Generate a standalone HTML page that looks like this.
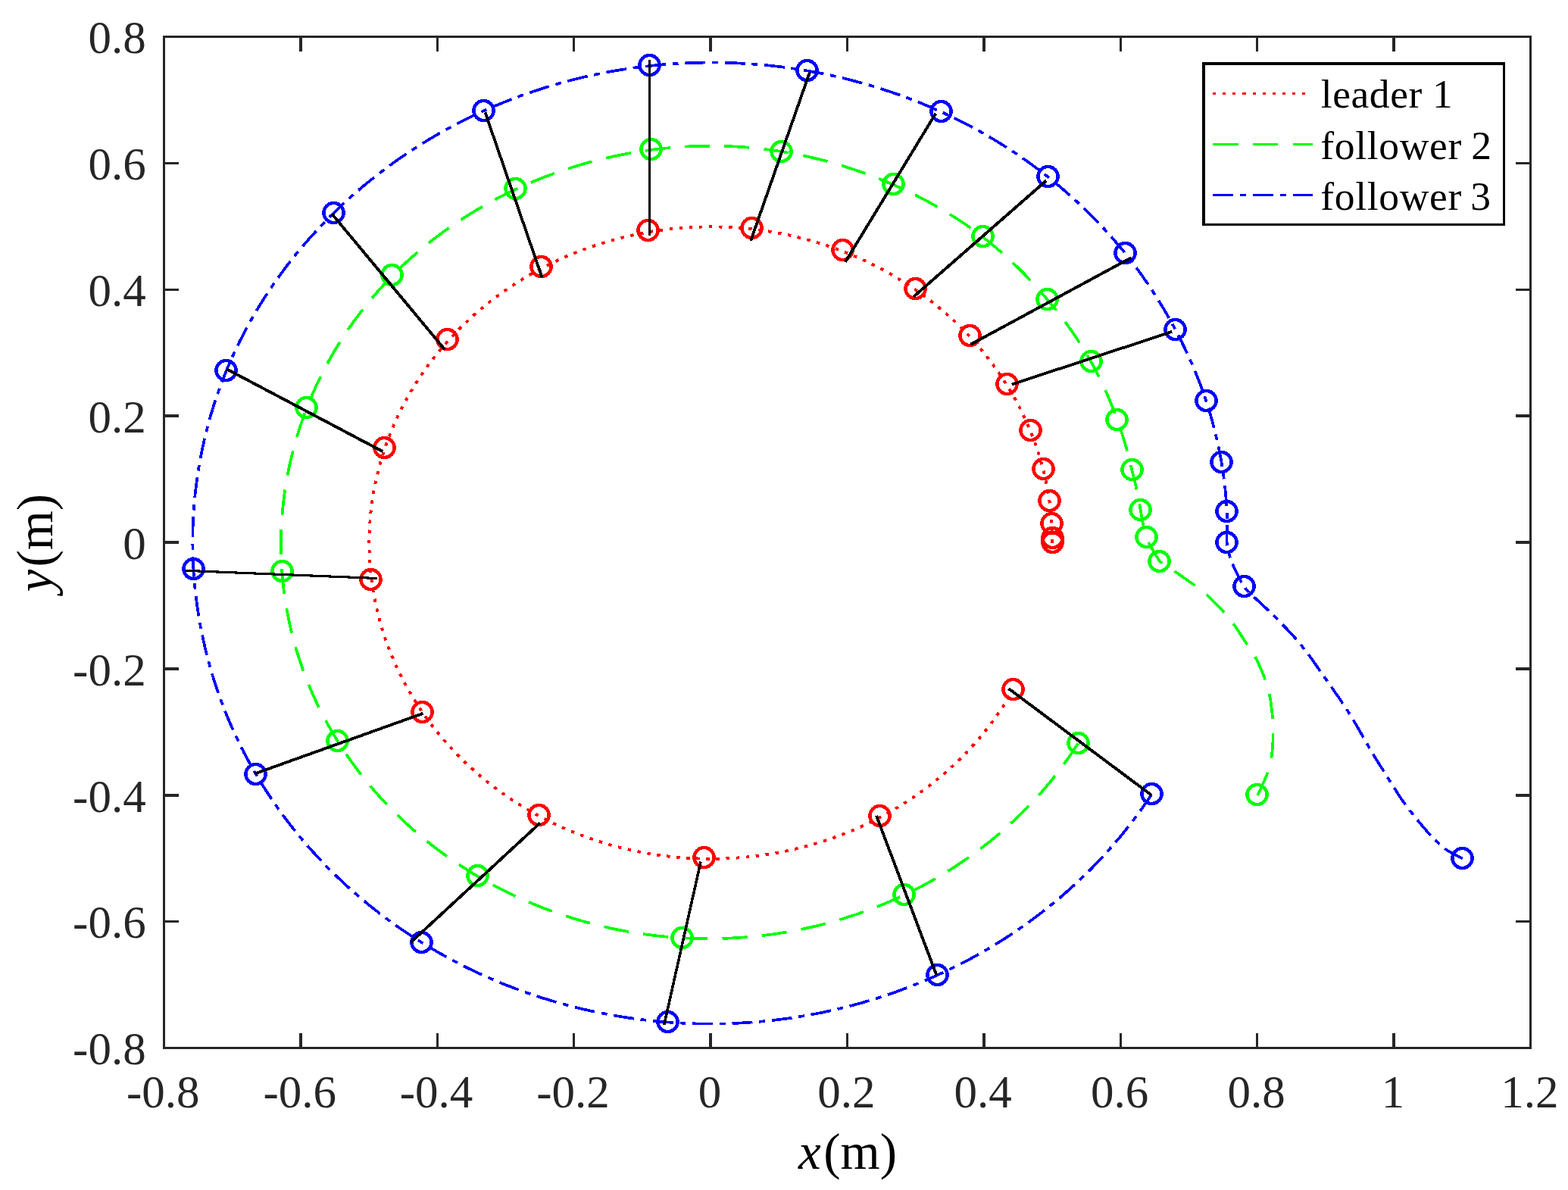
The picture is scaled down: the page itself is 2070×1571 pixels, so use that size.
<!DOCTYPE html>
<html lang="en"><head><meta charset="utf-8"><title>Trajectories</title>
<style>html,body{margin:0;padding:0;background:#fff;}body{width:2070px;height:1571px;overflow:hidden;}svg{display:block;}</style>
</head><body>
<svg width="2070" height="1571" viewBox="0 0 2070 1571">
<rect x="0" y="0" width="2070" height="1571" fill="#fff"/>
<path d="M1389.4,716.6 L1389.4,712.6 L1389.3,708.5 L1389.2,704.5 L1389.1,700.5 L1388.9,696.4 L1388.6,692.4 L1388.4,688.4 L1388.1,684.4 L1387.7,680.4 L1387.3,676.3 L1386.9,672.3 L1386.4,668.3 L1385.8,664.3 L1385.3,660.3 L1384.7,656.3 L1384.0,652.3 L1383.3,648.4 L1382.6,644.4 L1381.8,640.4 L1381.0,636.5 L1380.1,632.5 L1379.2,628.6 L1378.3,624.6 L1377.3,620.7 L1376.3,616.8 L1375.2,612.9 L1374.1,609.0 L1373.0,605.1 L1371.8,601.2 L1370.6,597.3 L1369.3,593.5 L1368.0,589.6 L1366.7,585.8 L1365.3,582.0 L1363.8,578.2 L1362.4,574.4 L1360.9,570.6 L1359.3,566.8 L1357.7,563.1 L1356.1,559.3 L1354.5,555.6 L1352.8,551.9 L1351.0,548.2 L1349.2,544.5 L1347.4,540.8 L1345.6,537.2 L1343.7,533.5 L1341.7,529.9 L1339.8,526.3 L1337.8,522.8 L1335.7,519.2 L1333.6,515.7 L1331.5,512.1 L1329.4,508.6 L1327.2,505.1 L1324.9,501.7 L1322.7,498.2 L1320.4,494.8 L1318.0,491.4 L1315.7,488.0 L1313.3,484.7 L1310.8,481.3 L1308.4,478.0 L1305.8,474.7 L1303.3,471.4 L1300.7,468.2 L1298.1,464.9 L1295.5,461.7 L1292.8,458.6 L1290.1,455.4 L1287.3,452.3 L1284.5,449.2 L1281.7,446.1 L1278.9,443.0 L1276.0,440.0 L1273.1,437.0 L1270.2,434.0 L1267.2,431.1 L1264.2,428.1 L1261.2,425.2 L1258.1,422.4 L1255.0,419.5 L1251.9,416.7 L1248.8,413.9 L1245.6,411.2 L1242.4,408.4 L1239.2,405.7 L1235.9,403.0 L1232.6,400.4 L1229.3,397.8 L1225.9,395.2 L1222.6,392.6 L1219.2,390.1 L1215.7,387.6 L1212.3,385.2 L1208.8,382.7 L1205.3,380.3 L1201.8,378.0 L1198.2,375.6 L1194.7,373.3 L1191.1,371.0 L1187.4,368.8 L1183.8,366.6 L1180.1,364.4 L1176.4,362.3 L1172.7,360.1 L1169.0,358.1 L1165.2,356.0 L1161.5,354.0 L1157.7,352.0 L1153.8,350.1 L1150.0,348.2 L1146.1,346.3 L1142.3,344.5 L1138.4,342.7 L1134.5,340.9 L1130.5,339.2 L1126.6,337.5 L1122.6,335.8 L1118.6,334.2 L1114.6,332.6 L1110.6,331.0 L1106.5,329.5 L1102.5,328.0 L1098.4,326.6 L1094.3,325.1 L1090.2,323.8 L1086.1,322.4 L1082.0,321.1 L1077.9,319.9 L1073.7,318.6 L1069.6,317.4 L1065.4,316.3 L1061.2,315.2 L1057.0,314.1 L1052.8,313.1 L1048.6,312.0 L1044.3,311.1 L1040.1,310.2 L1035.8,309.3 L1031.6,308.4 L1027.3,307.6 L1023.0,306.8 L1018.7,306.1 L1014.5,305.4 L1010.2,304.7 L1005.8,304.1 L1001.5,303.5 L997.2,303.0 L992.9,302.5 L988.6,302.0 L984.2,301.6 L979.9,301.2 L975.5,300.8 L971.2,300.5 L966.9,300.2 L962.5,300.0 L958.1,299.8 L953.8,299.7 L949.4,299.5 L945.1,299.5 L940.7,299.4 L936.4,299.4 L932.0,299.5 L927.6,299.5 L923.3,299.6 L918.9,299.8 L914.6,300.0 L910.2,300.2 L905.9,300.5 L901.5,300.8 L897.2,301.2 L892.9,301.5 L888.5,302.0 L884.2,302.4 L879.9,302.9 L875.5,303.5 L871.2,304.1 L866.9,304.7 L862.6,305.3 L858.3,306.0 L854.0,306.8 L849.8,307.5 L845.5,308.4 L841.2,309.2 L837.0,310.1 L832.7,311.0 L828.5,312.0 L824.3,313.0 L820.1,314.0 L815.9,315.1 L811.7,316.2 L807.5,317.4 L803.3,318.6 L799.2,319.8 L795.1,321.0 L790.9,322.3 L786.8,323.7 L782.7,325.1 L778.6,326.5 L774.6,327.9 L770.5,329.4 L766.5,330.9 L762.5,332.5 L758.4,334.1 L754.5,335.7 L750.5,337.3 L746.5,339.0 L742.6,340.8 L738.7,342.5 L734.8,344.4 L730.9,346.2 L727.0,348.1 L723.2,350.0 L719.4,351.9 L715.6,353.9 L711.8,355.9 L708.0,357.9 L704.3,360.0 L700.6,362.1 L696.9,364.3 L693.2,366.4 L689.6,368.6 L686.0,370.9 L682.4,373.2 L678.8,375.5 L675.2,377.8 L671.7,380.2 L668.2,382.6 L664.7,385.0 L661.3,387.5 L657.8,390.0 L654.4,392.5 L651.1,395.0 L647.7,397.6 L644.4,400.2 L641.1,402.9 L637.9,405.5 L634.6,408.2 L631.4,411.0 L628.2,413.7 L625.1,416.5 L622.0,419.3 L618.9,422.2 L615.8,425.1 L612.8,427.9 L609.8,430.9 L606.8,433.8 L603.9,436.8 L601.0,439.8 L598.1,442.8 L595.2,445.9 L592.4,449.0 L589.7,452.1 L586.9,455.2 L584.2,458.4 L581.5,461.5 L578.9,464.7 L576.2,468.0 L573.7,471.2 L571.1,474.5 L568.6,477.8 L566.1,481.1 L563.7,484.4 L561.3,487.8 L558.9,491.2 L556.6,494.6 L554.3,498.0 L552.0,501.5 L549.8,504.9 L547.6,508.4 L545.4,511.9 L543.3,515.4 L541.2,519.0 L539.2,522.5 L537.2,526.1 L535.2,529.7 L533.3,533.3 L531.4,536.9 L529.5,540.6 L527.7,544.3 L525.9,547.9 L524.2,551.6 L522.5,555.3 L520.8,559.1 L519.2,562.8 L517.6,566.6 L516.0,570.3 L514.5,574.1 L513.0,577.9 L511.6,581.7 L510.2,585.5 L508.9,589.4 L507.6,593.2 L506.3,597.1 L505.1,601.0 L503.9,604.8 L502.7,608.7 L501.6,612.6 L500.6,616.5 L499.5,620.4 L498.6,624.4 L497.6,628.3 L496.7,632.3 L495.9,636.2 L495.0,640.2 L494.3,644.1 L493.5,648.1 L492.8,652.1 L492.2,656.1 L491.6,660.1 L491.0,664.1 L490.5,668.1 L490.0,672.1 L489.5,676.1 L489.1,680.1 L488.8,684.1 L488.5,688.1 L488.2,692.2 L487.9,696.2 L487.7,700.2 L487.6,704.2 L487.5,708.3 L487.4,712.3 L487.4,716.3 L487.4,720.4 L487.5,724.4 L487.6,728.4 L487.7,732.5 L487.9,736.5 L488.1,740.5 L488.4,744.5 L488.7,748.6 L489.1,752.6 L489.5,756.6 L489.9,760.6 L490.4,764.6 L490.9,768.6 L491.5,772.6 L492.1,776.6 L492.7,780.6 L493.4,784.6 L494.2,788.6 L494.9,792.5 L495.7,796.5 L496.6,800.4 L497.5,804.4 L498.4,808.3 L499.4,812.2 L500.4,816.2 L501.5,820.1 L502.6,824.0 L503.7,827.9 L504.9,831.8 L506.1,835.6 L507.4,839.5 L508.7,843.3 L510.1,847.2 L511.4,851.0 L512.9,854.8 L514.3,858.6 L515.8,862.4 L517.4,866.2 L519.0,869.9 L520.6,873.7 L522.2,877.4 L523.9,881.1 L525.7,884.8 L527.5,888.5 L529.3,892.1 L531.1,895.8 L533.0,899.4 L534.9,903.0 L536.9,906.6 L538.9,910.2 L541.0,913.8 L543.0,917.3 L545.1,920.8 L547.3,924.4 L549.5,927.8 L551.7,931.3 L554.0,934.8 L556.3,938.2 L558.6,941.6 L561.0,945.0 L563.4,948.3 L565.8,951.7 L568.3,955.0 L570.8,958.3 L573.3,961.6 L575.9,964.8 L578.5,968.0 L581.2,971.3 L583.8,974.4 L586.6,977.6 L589.3,980.7 L592.1,983.8 L594.9,986.9 L597.7,990.0 L600.6,993.0 L603.5,996.0 L606.4,999.0 L609.4,1002.0 L612.4,1004.9 L615.4,1007.8 L618.5,1010.7 L621.6,1013.5 L624.7,1016.3 L627.8,1019.1 L631.0,1021.9 L634.2,1024.6 L637.4,1027.3 L640.7,1030.0 L644.0,1032.6 L647.3,1035.3 L650.6,1037.8 L654.0,1040.4 L657.4,1042.9 L660.8,1045.4 L664.3,1047.9 L667.8,1050.3 L671.3,1052.7 L674.8,1055.1 L678.3,1057.4 L681.9,1059.7 L685.5,1062.0 L689.1,1064.3 L692.8,1066.5 L696.4,1068.7 L700.1,1070.8 L703.8,1072.9 L707.6,1075.0 L711.3,1077.0 L715.1,1079.1 L718.9,1081.0 L722.7,1083.0 L726.6,1084.9 L730.4,1086.8 L734.3,1088.6 L738.2,1090.4 L742.1,1092.2 L746.0,1093.9 L750.0,1095.6 L754.0,1097.3 L757.9,1098.9 L761.9,1100.5 L766.0,1102.1 L770.0,1103.6 L774.0,1105.1 L778.1,1106.6 L782.2,1108.0 L786.3,1109.3 L790.4,1110.7 L794.5,1112.0 L798.7,1113.3 L802.8,1114.5 L807.0,1115.7 L811.2,1116.8 L815.3,1118.0 L819.5,1119.0 L823.7,1120.1 L828.0,1121.1 L832.2,1122.1 L836.4,1123.0 L840.7,1123.9 L845.0,1124.7 L849.2,1125.6 L853.5,1126.3 L857.8,1127.1 L862.1,1127.8 L866.4,1128.4 L870.7,1129.1 L875.0,1129.6 L879.3,1130.2 L883.6,1130.7 L888.0,1131.2 L892.3,1131.6 L896.6,1132.0 L901.0,1132.3 L905.3,1132.7 L909.7,1132.9 L914.0,1133.2 L918.4,1133.4 L922.7,1133.5 L927.1,1133.7 L931.4,1133.7 L935.8,1133.8 L940.2,1133.8 L944.5,1133.7 L948.9,1133.7 L953.2,1133.6 L957.6,1133.4 L961.9,1133.2 L966.3,1133.0 L970.6,1132.7 L975.0,1132.4 L979.3,1132.1 L983.7,1131.7 L988.0,1131.3 L992.3,1130.8 L996.7,1130.3 L1001.0,1129.8 L1005.3,1129.2 L1009.6,1128.6 L1013.9,1127.9 L1018.2,1127.2 L1022.5,1126.5 L1026.8,1125.7 L1031.0,1124.9 L1035.3,1124.0 L1039.5,1123.2 L1043.8,1122.2 L1048.0,1121.3 L1052.2,1120.3 L1056.5,1119.2 L1060.7,1118.2 L1064.8,1117.1 L1069.0,1115.9 L1073.2,1114.7 L1077.3,1113.5 L1081.5,1112.2 L1085.6,1110.9 L1089.7,1109.6 L1093.8,1108.2 L1097.9,1106.8 L1102.0,1105.4 L1106.0,1103.9 L1110.1,1102.4 L1114.1,1100.8 L1118.1,1099.2 L1122.1,1097.6 L1126.1,1096.0 L1130.0,1094.3 L1133.9,1092.5 L1137.9,1090.8 L1141.8,1089.0 L1145.6,1087.1 L1149.5,1085.3 L1153.4,1083.4 L1157.2,1081.4 L1161.0,1079.4 L1164.8,1077.4 L1168.5,1075.4 L1172.3,1073.3 L1176.0,1071.2 L1179.7,1069.1 L1183.3,1066.9 L1187.0,1064.7 L1190.6,1062.5 L1194.2,1060.2 L1197.8,1057.9 L1201.3,1055.5 L1204.9,1053.2 L1208.4,1050.8 L1211.9,1048.4 L1215.3,1045.9 L1218.7,1043.4 L1222.1,1040.9 L1225.5,1038.3 L1228.9,1035.7 L1232.2,1033.1 L1235.5,1030.5 L1238.7,1027.8 L1242.0,1025.1 L1245.2,1022.4 L1248.4,1019.6 L1251.5,1016.9 L1254.6,1014.0 L1257.7,1011.2 L1260.8,1008.3 L1263.8,1005.4 L1266.8,1002.5 L1269.8,999.6 L1272.7,996.6 L1275.7,993.6 L1278.5,990.6 L1281.4,987.5 L1284.2,984.4 L1287.0,981.3 L1289.7,978.2 L1292.4,975.0 L1295.1,971.9 L1297.8,968.7 L1300.4,965.4 L1303.0,962.2 L1305.5,958.9 L1308.0,955.6 L1310.5,952.3 L1313.0,949.0 L1315.4,945.6 L1317.7,942.2 L1320.1,938.8 L1322.4,935.4 L1324.7,932.0 L1326.9,928.5 L1329.1,925.0 L1331.2,921.5 L1333.4,918.0 L1335.5,914.5 L1337.5,910.9" fill="none" stroke="#ff0000" stroke-width="3.9" stroke-dasharray="4.4 8.68" stroke-linejoin="round" shape-rendering="crispEdges"/>
<path d="M1660.2,1050.0 L1660.9,1048.5 L1661.7,1046.6 L1662.8,1044.4 L1664.0,1041.9 L1665.2,1039.1 L1666.5,1036.3 L1667.9,1033.3 L1669.2,1030.4 L1670.4,1027.5 L1671.6,1024.8 L1672.6,1022.3 L1673.5,1020.0 L1674.2,1018.0 L1674.9,1016.1 L1675.4,1014.4 L1675.9,1012.8 L1676.4,1011.2 L1676.8,1009.7 L1677.1,1008.2 L1677.4,1006.6 L1677.7,1005.0 L1678.0,1003.3 L1678.3,1001.5 L1678.6,999.6 L1678.9,997.5 L1679.1,995.3 L1679.4,993.1 L1679.6,990.7 L1679.8,988.3 L1680.0,985.9 L1680.1,983.5 L1680.3,981.0 L1680.4,978.6 L1680.5,976.2 L1680.5,973.9 L1680.6,971.6 L1680.6,969.4 L1680.7,967.2 L1680.7,965.1 L1680.7,963.0 L1680.6,960.9 L1680.6,958.9 L1680.5,956.8 L1680.4,954.7 L1680.3,952.6 L1680.1,950.5 L1680.0,948.3 L1679.8,946.1 L1679.6,943.8 L1679.4,941.5 L1679.2,939.2 L1678.9,936.9 L1678.6,934.5 L1678.3,932.1 L1678.0,929.7 L1677.7,927.3 L1677.3,925.0 L1676.9,922.7 L1676.5,920.4 L1676.0,918.1 L1675.5,915.9 L1675.0,913.7 L1674.5,911.5 L1673.9,909.4 L1673.3,907.3 L1672.7,905.2 L1672.0,903.1 L1671.4,901.0 L1670.7,898.9 L1669.9,896.8 L1669.2,894.7 L1668.4,892.6 L1667.6,890.5 L1666.7,888.3 L1665.8,886.1 L1664.9,883.8 L1663.9,881.6 L1662.9,879.4 L1661.9,877.2 L1660.9,875.1 L1659.9,873.0 L1658.9,871.0 L1657.9,869.1 L1656.9,867.2 L1656.0,865.5 L1655.1,863.9 L1654.2,862.4 L1653.3,861.0 L1652.5,859.7 L1651.6,858.4 L1650.7,857.1 L1649.8,855.7 L1648.8,854.3 L1647.8,852.8 L1646.7,851.2 L1645.5,849.4 L1644.2,847.4 L1642.8,845.3 L1641.4,843.1 L1639.8,840.7 L1638.2,838.3 L1636.6,835.8 L1635.0,833.4 L1633.4,831.0 L1631.9,828.7 L1630.4,826.5 L1628.9,824.5 L1627.6,822.6 L1626.4,820.9 L1625.3,819.5 L1624.3,818.1 L1623.4,816.9 L1622.5,815.8 L1621.6,814.7 L1620.7,813.6 L1619.7,812.5 L1618.7,811.4 L1617.5,810.2 L1616.3,808.8 L1614.9,807.3 L1613.4,805.7 L1611.8,803.9 L1610.1,802.1 L1608.3,800.2 L1606.5,798.3 L1604.6,796.3 L1602.6,794.3 L1600.6,792.3 L1598.5,790.3 L1596.4,788.3 L1594.2,786.3 L1592.0,784.4 L1589.7,782.5 L1587.3,780.6 L1584.9,778.6 L1582.3,776.7 L1579.7,774.8 L1577.1,772.8 L1574.5,770.9 L1571.8,769.0 L1569.1,767.1 L1566.5,765.3 L1563.9,763.4 L1561.3,761.6 L1558.7,759.8 L1555.9,757.8 L1553.0,755.9 L1550.1,753.9 L1547.2,751.9 L1544.3,750.0 L1541.5,748.2 L1538.9,746.5 L1536.5,744.9 L1534.4,743.5 L1532.6,742.3 L1531.1,741.3 L1530.6,740.5 L1530.0,739.5 L1529.3,738.4 L1528.5,737.1 L1527.6,735.6 L1526.7,734.1 L1525.7,732.6 L1524.8,731.0 L1523.8,729.5 L1522.9,727.9 L1522.1,726.5 L1521.3,725.1 L1520.6,723.8 L1519.8,722.6 L1519.1,721.3 L1518.4,720.1 L1517.8,718.9 L1517.1,717.8 L1516.4,716.5 L1515.8,715.3 L1515.2,714.1 L1514.6,712.8 L1514.0,711.4 L1513.5,710.0 L1513.0,708.5 L1512.5,707.0 L1512.1,705.4 L1511.6,703.8 L1511.2,702.1 L1510.9,700.4 L1510.5,698.8 L1510.1,697.1 L1509.8,695.4 L1509.5,693.8 L1509.1,692.2 L1508.8,690.6 L1508.5,689.1 L1508.2,687.7 L1507.9,686.3 L1507.7,684.9 L1507.4,683.6 L1507.2,682.2 L1507.0,680.9 L1506.7,679.5 L1506.5,678.0 L1506.2,676.5 L1505.9,674.8 L1505.6,673.1 L1505.3,671.3 L1504.9,669.3 L1504.5,667.3 L1504.2,665.2 L1503.8,663.1 L1503.4,660.9 L1503.0,658.7 L1502.6,656.5 L1502.1,654.2 L1501.7,652.0 L1501.3,649.8 L1500.8,647.6 L1500.3,645.3 L1499.8,642.9 L1499.2,640.4 L1498.6,637.9 L1498.0,635.3 L1497.3,632.8 L1496.7,630.4 L1496.2,628.1 L1495.6,625.9 L1495.1,624.0 L1494.7,622.3 L1494.4,620.9 L1493.8,618.3 L1493.2,615.8 L1492.6,613.2 L1492.0,610.7 L1491.4,608.1 L1490.7,605.6 L1490.1,603.0 L1489.4,600.5 L1488.7,597.9 L1488.1,595.4 L1487.3,592.9 L1486.6,590.4 L1485.9,587.8 L1485.2,585.3 L1484.4,582.8 L1483.6,580.3 L1482.9,577.8 L1482.1,575.3 L1481.3,572.7 L1480.4,570.2 L1479.6,567.7 L1478.8,565.3 L1477.9,562.8 L1477.1,560.3 L1476.2,557.8 L1475.3,555.3 L1474.4,552.8 L1473.5,550.4 L1472.6,547.9 L1471.7,545.4 L1470.7,543.0 L1469.8,540.5 L1468.8,538.0 L1467.9,535.6 L1466.9,533.1 L1465.9,530.7 L1464.9,528.3 L1463.9,525.8 L1462.8,523.4 L1461.8,521.0 L1460.7,518.5 L1459.7,516.1 L1458.6,513.7 L1457.5,511.3 L1456.4,508.9 L1455.3,506.5 L1454.1,504.1 L1453.0,501.7 L1451.8,499.3 L1450.6,497.0 L1449.4,494.6 L1448.2,492.2 L1447.0,489.9 L1445.8,487.5 L1444.5,485.2 L1443.3,482.9 L1442.0,480.5 L1440.7,478.2 L1439.4,475.9 L1438.1,473.6 L1436.8,471.3 L1435.4,469.0 L1434.1,466.7 L1432.7,464.4 L1431.3,462.1 L1429.9,459.9 L1428.5,457.6 L1427.1,455.3 L1425.6,453.1 L1424.2,450.9 L1422.7,448.6 L1421.2,446.4 L1419.7,444.2 L1418.2,442.0 L1416.7,439.8 L1415.2,437.6 L1413.7,435.4 L1412.1,433.2 L1410.5,431.0 L1409.0,428.9 L1407.4,426.7 L1405.8,424.6 L1404.2,422.4 L1402.6,420.3 L1401.0,418.1 L1399.3,416.0 L1397.7,413.9 L1396.0,411.8 L1394.3,409.7 L1392.7,407.6 L1391.0,405.5 L1389.3,403.4 L1387.6,401.3 L1385.9,399.2 L1384.2,397.2 L1382.4,395.1 L1380.7,393.1 L1378.9,391.0 L1377.2,389.0 L1375.4,387.0 L1373.6,384.9 L1371.8,382.9 L1370.0,380.9 L1368.2,378.9 L1366.4,376.9 L1364.6,374.9 L1362.8,372.9 L1360.9,370.9 L1359.1,369.0 L1357.2,367.0 L1355.3,365.1 L1353.5,363.1 L1351.6,361.2 L1349.7,359.2 L1347.8,357.3 L1345.8,355.4 L1343.9,353.5 L1342.0,351.6 L1340.0,349.7 L1338.1,347.8 L1336.1,346.0 L1334.1,344.1 L1332.1,342.3 L1330.1,340.4 L1328.1,338.6 L1326.1,336.8 L1324.0,335.0 L1322.0,333.1 L1319.9,331.4 L1317.9,329.6 L1315.8,327.8 L1313.7,326.0 L1311.6,324.3 L1309.5,322.5 L1307.4,320.8 L1305.3,319.1 L1303.1,317.4 L1301.0,315.7 L1298.8,314.0 L1296.7,312.3 L1294.5,310.6 L1292.3,309.0 L1290.1,307.3 L1287.9,305.7 L1285.7,304.1 L1283.4,302.5 L1281.2,300.9 L1278.9,299.3 L1276.7,297.7 L1274.4,296.2 L1272.1,294.6 L1269.9,293.1 L1267.6,291.6 L1265.3,290.0 L1262.9,288.5 L1260.6,287.0 L1258.3,285.6 L1256.0,284.1 L1253.6,282.6 L1251.3,281.2 L1248.9,279.8 L1246.5,278.3 L1244.1,276.9 L1241.8,275.5 L1239.4,274.1 L1237.0,272.8 L1234.5,271.4 L1232.1,270.0 L1229.7,268.7 L1227.3,267.4 L1224.8,266.0 L1222.4,264.7 L1219.9,263.4 L1217.5,262.1 L1215.0,260.9 L1212.5,259.6 L1210.1,258.3 L1207.6,257.1 L1205.1,255.9 L1202.6,254.6 L1200.1,253.4 L1197.6,252.2 L1195.1,251.0 L1192.5,249.9 L1190.0,248.7 L1187.5,247.5 L1184.9,246.4 L1182.4,245.3 L1179.8,244.1 L1177.3,243.0 L1174.7,241.9 L1172.2,240.8 L1169.6,239.7 L1167.0,238.7 L1164.4,237.6 L1161.8,236.6 L1159.2,235.5 L1156.6,234.5 L1154.0,233.5 L1151.4,232.5 L1148.8,231.5 L1146.2,230.5 L1143.6,229.5 L1140.9,228.6 L1138.3,227.6 L1135.7,226.7 L1133.0,225.8 L1130.4,224.8 L1127.7,223.9 L1125.1,223.1 L1122.4,222.2 L1119.7,221.3 L1117.1,220.5 L1114.4,219.6 L1111.7,218.8 L1109.0,218.0 L1106.3,217.2 L1103.6,216.4 L1100.9,215.6 L1098.2,214.8 L1095.5,214.0 L1092.8,213.3 L1090.1,212.6 L1087.4,211.8 L1084.7,211.1 L1081.9,210.4 L1079.2,209.8 L1076.5,209.1 L1073.7,208.4 L1071.0,207.8 L1068.2,207.2 L1065.5,206.5 L1062.7,205.9 L1060.0,205.3 L1057.2,204.8 L1054.4,204.2 L1051.7,203.6 L1048.9,203.1 L1046.1,202.6 L1043.4,202.1 L1040.6,201.6 L1037.8,201.1 L1035.0,200.6 L1032.2,200.2 L1029.4,199.7 L1026.6,199.3 L1023.8,198.9 L1021.0,198.5 L1018.2,198.1 L1015.4,197.7 L1012.6,197.3 L1009.8,197.0 L1007.0,196.6 L1004.2,196.3 L1001.4,196.0 L998.6,195.7 L995.8,195.4 L993.0,195.2 L990.1,194.9 L987.3,194.7 L984.5,194.4 L981.7,194.2 L978.8,194.0 L976.0,193.8 L973.2,193.7 L970.4,193.5 L967.5,193.4 L964.7,193.2 L961.9,193.1 L959.0,193.0 L956.2,192.9 L953.4,192.9 L950.6,192.8 L947.7,192.7 L944.9,192.7 L942.1,192.7 L939.2,192.7 L936.4,192.7 L933.6,192.7 L930.7,192.7 L927.9,192.8 L925.1,192.8 L922.2,192.9 L919.4,193.0 L916.6,193.1 L913.7,193.2 L910.9,193.3 L908.1,193.4 L905.3,193.6 L902.4,193.8 L899.6,193.9 L896.8,194.1 L893.9,194.3 L891.1,194.5 L888.3,194.8 L885.5,195.0 L882.7,195.3 L879.8,195.5 L877.0,195.8 L874.2,196.1 L871.4,196.4 L868.6,196.7 L865.8,197.1 L863.0,197.4 L860.2,197.8 L857.4,198.2 L854.6,198.5 L851.8,198.9 L849.0,199.3 L846.2,199.8 L843.4,200.2 L840.6,200.7 L837.8,201.1 L835.0,201.6 L832.2,202.1 L829.5,202.6 L826.7,203.1 L823.9,203.6 L821.1,204.2 L818.4,204.7 L815.6,205.3 L812.8,205.9 L810.1,206.4 L807.3,207.0 L804.6,207.7 L801.8,208.3 L799.1,208.9 L796.3,209.6 L793.6,210.2 L790.9,210.9 L788.1,211.6 L785.4,212.3 L782.7,213.0 L779.9,213.7 L777.2,214.5 L774.5,215.2 L771.8,216.0 L769.1,216.8 L766.4,217.6 L763.7,218.4 L761.0,219.2 L758.3,220.0 L755.6,220.8 L753.0,221.7 L750.3,222.6 L747.6,223.4 L745.0,224.3 L742.3,225.2 L739.6,226.1 L737.0,227.0 L734.3,228.0 L731.7,228.9 L729.1,229.9 L726.4,230.9 L723.8,231.8 L721.2,232.8 L718.6,233.8 L716.0,234.9 L713.4,235.9 L710.8,236.9 L708.2,238.0 L705.6,239.0 L703.0,240.1 L700.4,241.2 L697.8,242.3 L695.3,243.4 L692.7,244.5 L690.2,245.7 L687.6,246.8 L685.1,248.0 L682.5,249.1 L680.0,250.3 L677.5,251.5 L675.0,252.7 L672.5,253.9 L670.0,255.2 L667.5,256.4 L665.0,257.6 L662.5,258.9 L660.0,260.2 L657.5,261.4 L655.1,262.7 L652.6,264.0 L650.2,265.4 L647.7,266.7 L645.3,268.0 L642.8,269.4 L640.4,270.7 L638.0,272.1 L635.6,273.5 L633.2,274.9 L630.8,276.3 L628.4,277.7 L626.0,279.1 L623.7,280.6 L621.3,282.0 L618.9,283.5 L616.6,284.9 L614.3,286.4 L611.9,287.9 L609.6,289.4 L607.3,290.9 L605.0,292.4 L602.7,294.0 L600.4,295.5 L598.1,297.1 L595.8,298.7 L593.6,300.2 L591.3,301.8 L589.1,303.4 L586.8,305.0 L584.6,306.6 L582.4,308.3 L580.2,309.9 L577.9,311.6 L575.8,313.2 L573.6,314.9 L571.4,316.6 L569.2,318.3 L567.1,320.0 L564.9,321.7 L562.8,323.4 L560.6,325.1 L558.5,326.9 L556.4,328.6 L554.3,330.4 L552.2,332.2 L550.1,334.0 L548.1,335.7 L546.0,337.6 L543.9,339.4 L541.9,341.2 L539.9,343.0 L537.8,344.9 L535.8,346.7 L533.8,348.6 L531.8,350.4 L529.9,352.3 L527.9,354.2 L525.9,356.1 L524.0,358.0 L522.0,359.9 L520.1,361.9 L518.2,363.8 L516.3,365.7 L514.4,367.7 L512.5,369.7 L510.6,371.6 L508.8,373.6 L506.9,375.6 L505.1,377.6 L503.3,379.6 L501.4,381.6 L499.6,383.7 L497.9,385.7 L496.1,387.7 L494.3,389.8 L492.5,391.9 L490.8,393.9 L489.1,396.0 L487.3,398.1 L485.6,400.2 L483.9,402.3 L482.2,404.4 L480.5,406.5 L478.9,408.6 L477.2,410.8 L475.6,412.9 L474.0,415.1 L472.3,417.2 L470.7,419.4 L469.1,421.5 L467.5,423.7 L466.0,425.9 L464.4,428.1 L462.9,430.3 L461.3,432.5 L459.8,434.7 L458.3,436.9 L456.8,439.2 L455.3,441.4 L453.8,443.7 L452.4,445.9 L450.9,448.2 L449.5,450.4 L448.1,452.7 L446.7,455.0 L445.3,457.3 L443.9,459.5 L442.5,461.8 L441.1,464.1 L439.8,466.4 L438.4,468.8 L437.1,471.1 L435.8,473.4 L434.5,475.7 L433.2,478.1 L431.9,480.4 L430.7,482.8 L429.4,485.1 L428.2,487.5 L427.0,489.9 L425.8,492.2 L424.6,494.6 L423.4,497.0 L422.2,499.4 L421.0,501.8 L419.9,504.2 L418.8,506.6 L417.6,509.0 L416.5,511.4 L415.4,513.8 L414.4,516.2 L413.3,518.7 L412.2,521.1 L411.2,523.5 L410.1,526.0 L409.1,528.4 L408.1,530.9 L407.1,533.3 L406.1,535.8 L405.2,538.3 L404.2,540.7 L403.3,543.2 L402.4,545.7 L401.4,548.2 L400.5,550.7 L399.7,553.2 L398.8,555.7 L397.9,558.2 L397.1,560.7 L396.2,563.2 L395.4,565.7 L394.6,568.2 L393.8,570.7 L393.0,573.2 L392.2,575.7 L391.5,578.3 L390.7,580.8 L390.0,583.3 L389.3,585.9 L388.6,588.4 L387.9,591.0 L387.2,593.5 L386.6,596.1 L385.9,598.6 L385.3,601.2 L384.7,603.7 L384.0,606.3 L383.5,608.9 L382.9,611.4 L382.3,614.0 L381.7,616.6 L381.2,619.1 L380.7,621.7 L380.2,624.3 L379.7,626.9 L379.2,629.5 L378.7,632.1 L378.3,634.6 L377.8,637.2 L377.4,639.8 L377.0,642.4 L376.6,645.0 L376.2,647.6 L375.8,650.2 L375.4,652.8 L375.1,655.4 L374.8,658.0 L374.4,660.6 L374.1,663.3 L373.8,665.9 L373.6,668.5 L373.3,671.1 L373.0,673.7 L372.8,676.3 L372.6,678.9 L372.4,681.6 L372.2,684.2 L372.0,686.8 L371.8,689.4 L371.7,692.0 L371.6,694.7 L371.4,697.3 L371.3,699.9 L371.2,702.5 L371.1,705.1 L371.1,707.8 L371.0,710.4 L371.0,713.0 L371.0,715.6 L371.0,718.3 L371.0,720.9 L371.0,723.5 L371.0,726.1 L371.1,728.8 L371.1,731.4 L371.2,734.0 L371.3,736.6 L371.4,739.3 L371.5,741.9 L371.6,744.5 L371.8,747.1 L371.9,749.8 L372.1,752.4 L372.3,755.0 L372.5,757.6 L372.7,760.2 L373.0,762.9 L373.2,765.5 L373.5,768.1 L373.7,770.7 L374.0,773.3 L374.3,775.9 L374.6,778.5 L375.0,781.1 L375.3,783.8 L375.7,786.4 L376.0,789.0 L376.4,791.6 L376.8,794.2 L377.2,796.8 L377.7,799.4 L378.1,802.0 L378.6,804.5 L379.0,807.1 L379.5,809.7 L380.0,812.3 L380.5,814.9 L381.1,817.5 L381.6,820.1 L382.2,822.6 L382.7,825.2 L383.3,827.8 L383.9,830.3 L384.5,832.9 L385.2,835.5 L385.8,838.0 L386.5,840.6 L387.1,843.1 L387.8,845.7 L388.5,848.2 L389.2,850.8 L389.9,853.3 L390.7,855.9 L391.4,858.4 L392.2,860.9 L393.0,863.5 L393.8,866.0 L394.6,868.5 L395.4,871.0 L396.2,873.5 L397.1,876.0 L397.9,878.5 L398.8,881.0 L399.7,883.5 L400.6,886.0 L401.5,888.5 L402.5,891.0 L403.4,893.5 L404.4,896.0 L405.3,898.4 L406.3,900.9 L407.3,903.3 L408.3,905.8 L409.4,908.3 L410.4,910.7 L411.5,913.1 L412.5,915.6 L413.6,918.0 L414.7,920.4 L415.8,922.9 L416.9,925.3 L418.1,927.7 L419.2,930.1 L420.4,932.5 L421.5,934.9 L422.7,937.3 L423.9,939.7 L425.1,942.0 L426.4,944.4 L427.6,946.8 L428.8,949.1 L430.1,951.5 L431.4,953.8 L432.7,956.2 L434.0,958.5 L435.3,960.8 L436.6,963.2 L438.0,965.5 L439.3,967.8 L440.7,970.1 L442.1,972.4 L443.5,974.7 L444.9,977.0 L446.3,979.2 L447.7,981.5 L449.2,983.8 L450.6,986.0 L452.1,988.3 L453.6,990.5 L455.1,992.8 L456.6,995.0 L458.1,997.2 L459.6,999.4 L461.2,1001.6 L462.7,1003.8 L464.3,1006.0 L465.9,1008.2 L467.4,1010.4 L469.1,1012.6 L470.7,1014.7 L472.3,1016.9 L473.9,1019.0 L475.6,1021.2 L477.2,1023.3 L478.9,1025.4 L480.6,1027.5 L482.3,1029.6 L484.0,1031.7 L485.7,1033.8 L487.5,1035.9 L489.2,1038.0 L491.0,1040.1 L492.7,1042.1 L494.5,1044.2 L496.3,1046.2 L498.1,1048.2 L499.9,1050.3 L501.7,1052.3 L503.5,1054.3 L505.4,1056.3 L507.2,1058.3 L509.1,1060.3 L511.0,1062.2 L512.9,1064.2 L514.8,1066.2 L516.7,1068.1 L518.6,1070.0 L520.5,1072.0 L522.4,1073.9 L524.4,1075.8 L526.4,1077.7 L528.3,1079.6 L530.3,1081.5 L532.3,1083.3 L534.3,1085.2 L536.3,1087.1 L538.3,1088.9 L540.4,1090.7 L542.4,1092.6 L544.4,1094.4 L546.5,1096.2 L548.6,1098.0 L550.7,1099.8 L552.7,1101.5 L554.8,1103.3 L556.9,1105.1 L559.1,1106.8 L561.2,1108.6 L563.3,1110.3 L565.5,1112.0 L567.6,1113.7 L569.8,1115.4 L572.0,1117.1 L574.1,1118.8 L576.3,1120.4 L578.5,1122.1 L580.7,1123.7 L583.0,1125.4 L585.2,1127.0 L587.4,1128.6 L589.7,1130.2 L591.9,1131.8 L594.2,1133.4 L596.4,1135.0 L598.7,1136.5 L601.0,1138.1 L603.3,1139.6 L605.6,1141.2 L607.9,1142.7 L610.2,1144.2 L612.6,1145.7 L614.9,1147.2 L617.2,1148.7 L619.6,1150.1 L621.9,1151.6 L624.3,1153.0 L626.7,1154.5 L629.1,1155.9 L631.5,1157.3 L633.9,1158.7 L636.3,1160.1 L638.7,1161.5 L641.1,1162.8 L643.5,1164.2 L645.9,1165.5 L648.4,1166.9 L650.8,1168.2 L653.3,1169.5 L655.7,1170.8 L658.2,1172.1 L660.7,1173.4 L663.2,1174.6 L665.7,1175.9 L668.2,1177.1 L670.7,1178.3 L673.2,1179.6 L675.7,1180.8 L678.2,1182.0 L680.7,1183.2 L683.3,1184.3 L685.8,1185.5 L688.3,1186.6 L690.9,1187.8 L693.5,1188.9 L696.0,1190.0 L698.6,1191.1 L701.2,1192.2 L703.7,1193.3 L706.3,1194.3 L708.9,1195.4 L711.5,1196.4 L714.1,1197.5 L716.7,1198.5 L719.3,1199.5 L722.0,1200.5 L724.6,1201.5 L727.2,1202.4 L729.9,1203.4 L732.5,1204.3 L735.1,1205.3 L737.8,1206.2 L740.4,1207.1 L743.1,1208.0 L745.8,1208.9 L748.4,1209.8 L751.1,1210.6 L753.8,1211.5 L756.5,1212.3 L759.2,1213.1 L761.9,1213.9 L764.6,1214.7 L767.3,1215.5 L770.0,1216.3 L772.7,1217.0 L775.4,1217.8 L778.1,1218.5 L780.8,1219.2 L783.5,1220.0 L786.3,1220.6 L789.0,1221.3 L791.7,1222.0 L794.5,1222.7 L797.2,1223.3 L800.0,1223.9 L802.7,1224.6 L805.5,1225.2 L808.2,1225.8 L811.0,1226.4 L813.7,1226.9 L816.5,1227.5 L819.3,1228.0 L822.0,1228.6 L824.8,1229.1 L827.6,1229.6 L830.4,1230.1 L833.1,1230.6 L835.9,1231.0 L838.7,1231.5 L841.5,1231.9 L844.3,1232.3 L847.1,1232.8 L849.9,1233.2 L852.7,1233.6 L855.5,1233.9 L858.3,1234.3 L861.1,1234.6 L863.9,1235.0 L866.7,1235.3 L869.5,1235.6 L872.3,1235.9 L875.1,1236.2 L877.9,1236.5 L880.7,1236.7 L883.5,1237.0 L886.4,1237.2 L889.2,1237.4 L892.0,1237.6 L894.8,1237.8 L897.6,1238.0 L900.4,1238.2 L903.3,1238.3 L906.1,1238.5 L908.9,1238.6 L911.7,1238.7 L914.6,1238.8 L917.4,1238.9 L920.2,1239.0 L923.0,1239.1 L925.9,1239.1 L928.7,1239.2 L931.5,1239.2 L934.3,1239.2 L937.2,1239.2 L940.0,1239.2 L942.8,1239.2 L945.6,1239.1 L948.5,1239.1 L951.3,1239.0 L954.1,1238.9 L956.9,1238.8 L959.8,1238.7 L962.6,1238.6 L965.4,1238.5 L968.2,1238.3 L971.0,1238.2 L973.9,1238.0 L976.7,1237.8 L979.5,1237.6 L982.3,1237.4 L985.1,1237.2 L987.9,1236.9 L990.7,1236.7 L993.6,1236.4 L996.4,1236.2 L999.2,1235.9 L1002.0,1235.6 L1004.8,1235.3 L1007.6,1234.9 L1010.4,1234.6 L1013.2,1234.2 L1016.0,1233.9 L1018.8,1233.5 L1021.6,1233.1 L1024.3,1232.7 L1027.1,1232.3 L1029.9,1231.9 L1032.7,1231.4 L1035.5,1231.0 L1038.3,1230.5 L1041.0,1230.0 L1043.8,1229.5 L1046.6,1229.0 L1049.3,1228.5 L1052.1,1228.0 L1054.9,1227.4 L1057.6,1226.9 L1060.4,1226.3 L1063.1,1225.7 L1065.9,1225.1 L1068.6,1224.5 L1071.4,1223.9 L1074.1,1223.2 L1076.8,1222.6 L1079.6,1221.9 L1082.3,1221.3 L1085.0,1220.6 L1087.7,1219.9 L1090.5,1219.2 L1093.2,1218.5 L1095.9,1217.7 L1098.6,1217.0 L1101.3,1216.2 L1104.0,1215.5 L1106.7,1214.7 L1109.4,1213.9 L1112.0,1213.1 L1114.7,1212.2 L1117.4,1211.4 L1120.1,1210.6 L1122.7,1209.7 L1125.4,1208.8 L1128.0,1208.0 L1130.7,1207.1 L1133.3,1206.2 L1136.0,1205.2 L1138.6,1204.3 L1141.2,1203.4 L1143.9,1202.4 L1146.5,1201.5 L1149.1,1200.5 L1151.7,1199.5 L1154.3,1198.5 L1156.9,1197.5 L1159.5,1196.4 L1162.1,1195.4 L1164.7,1194.4 L1167.2,1193.3 L1169.8,1192.2 L1172.4,1191.1 L1174.9,1190.0 L1177.5,1188.9 L1180.0,1187.8 L1182.6,1186.7 L1185.1,1185.5 L1187.6,1184.4 L1190.2,1183.2 L1192.7,1182.0 L1195.2,1180.8 L1197.7,1179.6 L1200.2,1178.4 L1202.7,1177.2 L1205.2,1176.0 L1207.6,1174.7 L1210.1,1173.5 L1212.6,1172.2 L1215.0,1170.9 L1217.5,1169.6 L1219.9,1168.3 L1222.3,1167.0 L1224.8,1165.7 L1227.2,1164.3 L1229.6,1163.0 L1232.0,1161.6 L1234.4,1160.2 L1236.8,1158.9 L1239.2,1157.5 L1241.6,1156.1 L1243.9,1154.7 L1246.3,1153.2 L1248.6,1151.8 L1251.0,1150.3 L1253.3,1148.9 L1255.6,1147.4 L1258.0,1145.9 L1260.3,1144.5 L1262.6,1143.0 L1264.9,1141.4 L1267.2,1139.9 L1269.4,1138.4 L1271.7,1136.8 L1274.0,1135.3 L1276.2,1133.7 L1278.5,1132.2 L1280.7,1130.6 L1283.0,1129.0 L1285.2,1127.4 L1287.4,1125.8 L1289.6,1124.1 L1291.8,1122.5 L1294.0,1120.9 L1296.1,1119.2 L1298.3,1117.5 L1300.5,1115.9 L1302.6,1114.2 L1304.8,1112.5 L1306.9,1110.8 L1309.0,1109.1 L1311.1,1107.3 L1313.2,1105.6 L1315.3,1103.9 L1317.4,1102.1 L1319.5,1100.3 L1321.6,1098.6 L1323.6,1096.8 L1325.7,1095.0 L1327.7,1093.2 L1329.7,1091.4 L1331.7,1089.6 L1333.7,1087.7 L1335.7,1085.9 L1337.7,1084.1 L1339.7,1082.2 L1341.7,1080.3 L1343.6,1078.5 L1345.6,1076.6 L1347.5,1074.7 L1349.4,1072.8 L1351.4,1070.9 L1353.3,1069.0 L1355.2,1067.0 L1357.1,1065.1 L1358.9,1063.2 L1360.8,1061.2 L1362.6,1059.2 L1364.5,1057.3 L1366.3,1055.3 L1368.1,1053.3 L1370.0,1051.3 L1371.8,1049.3 L1373.5,1047.3 L1375.3,1045.3 L1377.1,1043.2 L1378.8,1041.2 L1380.6,1039.2 L1382.3,1037.1 L1384.1,1035.1 L1385.8,1033.0 L1387.5,1030.9 L1389.2,1028.8 L1390.8,1026.7 L1392.5,1024.6 L1394.2,1022.5 L1395.8,1020.4 L1397.4,1018.3 L1399.1,1016.2 L1400.7,1014.0 L1402.3,1011.9 L1403.8,1009.7 L1405.4,1007.6 L1407.0,1005.4 L1408.5,1003.2 L1410.1,1001.0 L1411.6,998.9 L1413.1,996.7 L1414.6,994.5 L1416.1,992.2 L1417.6,990.0 L1419.1,987.8 L1420.5,985.6 L1422.0,983.3 L1423.4,981.1" fill="none" stroke="#00ff00" stroke-width="3.7" stroke-dasharray="33.2 19.2" stroke-linejoin="round" shape-rendering="crispEdges"/>
<path d="M1930.7,1133.3 L1929.6,1132.7 L1928.1,1132.0 L1926.4,1131.1 L1924.5,1130.2 L1922.5,1129.1 L1920.3,1128.0 L1918.1,1126.8 L1915.8,1125.6 L1913.6,1124.3 L1911.5,1123.1 L1909.5,1121.8 L1907.7,1120.6 L1906.0,1119.4 L1904.4,1118.1 L1902.9,1116.8 L1901.4,1115.5 L1899.9,1114.2 L1898.5,1112.8 L1897.1,1111.4 L1895.6,1110.0 L1894.2,1108.5 L1892.8,1107.0 L1891.4,1105.5 L1889.9,1104.0 L1888.4,1102.4 L1886.9,1100.8 L1885.4,1099.2 L1884.0,1097.6 L1882.5,1095.9 L1881.0,1094.2 L1879.5,1092.5 L1878.0,1090.7 L1876.5,1089.0 L1875.1,1087.2 L1873.6,1085.4 L1872.1,1083.6 L1870.6,1081.8 L1869.1,1079.9 L1867.6,1078.1 L1866.1,1076.2 L1864.6,1074.2 L1863.0,1072.3 L1861.5,1070.4 L1860.0,1068.4 L1858.6,1066.5 L1857.1,1064.5 L1855.7,1062.6 L1854.3,1060.7 L1852.9,1058.8 L1851.6,1056.9 L1850.2,1054.9 L1848.9,1053.0 L1847.6,1051.0 L1846.3,1049.1 L1845.1,1047.2 L1843.8,1045.2 L1842.6,1043.3 L1841.4,1041.5 L1840.2,1039.6 L1839.0,1037.8 L1837.9,1036.0 L1836.7,1034.3 L1835.6,1032.5 L1834.6,1030.8 L1833.5,1029.1 L1832.5,1027.4 L1831.5,1025.8 L1830.4,1024.1 L1829.4,1022.4 L1828.4,1020.8 L1827.4,1019.1 L1826.3,1017.4 L1825.2,1015.7 L1824.2,1014.1 L1823.1,1012.4 L1822.1,1010.8 L1821.0,1009.1 L1820.0,1007.5 L1818.9,1005.8 L1817.9,1004.2 L1816.8,1002.4 L1815.7,1000.7 L1814.6,998.9 L1813.5,997.1 L1812.4,995.2 L1811.2,993.3 L1810.1,991.3 L1808.9,989.3 L1807.8,987.3 L1806.6,985.2 L1805.4,983.2 L1804.2,981.1 L1803.0,979.0 L1801.8,977.0 L1800.7,974.9 L1799.5,972.9 L1798.3,970.9 L1797.2,968.8 L1796.0,966.8 L1794.8,964.7 L1793.7,962.7 L1792.5,960.6 L1791.3,958.6 L1790.2,956.6 L1789.0,954.6 L1787.8,952.6 L1786.7,950.6 L1785.5,948.7 L1784.3,946.8 L1783.2,944.9 L1782.0,943.1 L1780.8,941.2 L1779.7,939.4 L1778.5,937.6 L1777.3,935.8 L1776.2,934.0 L1775.0,932.3 L1773.8,930.5 L1772.7,928.8 L1771.5,927.0 L1770.3,925.3 L1769.2,923.6 L1768.0,921.9 L1766.9,920.2 L1765.7,918.5 L1764.6,916.8 L1763.4,915.2 L1762.3,913.5 L1761.1,911.8 L1759.9,910.1 L1758.7,908.4 L1757.5,906.7 L1756.3,904.9 L1755.0,903.2 L1753.8,901.4 L1752.5,899.6 L1751.2,897.8 L1749.9,895.9 L1748.6,894.1 L1747.3,892.3 L1746.1,890.5 L1744.8,888.6 L1743.5,886.8 L1742.2,885.0 L1740.9,883.2 L1739.7,881.4 L1738.4,879.6 L1737.1,877.7 L1735.9,875.9 L1734.6,874.1 L1733.4,872.3 L1732.1,870.5 L1730.8,868.7 L1729.5,866.9 L1728.2,865.2 L1726.9,863.4 L1725.6,861.6 L1724.2,859.9 L1722.9,858.2 L1721.5,856.4 L1720.1,854.7 L1718.7,853.0 L1717.3,851.3 L1716.0,849.6 L1714.6,847.9 L1713.2,846.2 L1711.8,844.6 L1710.4,843.0 L1709.0,841.4 L1707.7,839.9 L1706.3,838.4 L1704.9,836.9 L1703.6,835.4 L1702.2,833.9 L1700.8,832.5 L1699.4,831.0 L1698.0,829.6 L1696.6,828.1 L1695.2,826.7 L1693.8,825.2 L1692.4,823.7 L1690.9,822.2 L1689.5,820.7 L1688.0,819.2 L1686.5,817.7 L1685.1,816.3 L1683.6,814.8 L1682.1,813.3 L1680.6,811.8 L1679.1,810.3 L1677.5,808.8 L1676.0,807.3 L1674.4,805.8 L1672.8,804.3 L1671.2,802.8 L1669.5,801.2 L1667.9,799.7 L1666.2,798.2 L1664.6,796.7 L1663.0,795.2 L1661.4,793.7 L1659.8,792.3 L1658.3,790.9 L1656.9,789.5 L1655.5,788.2 L1654.2,786.9 L1652.9,785.8 L1651.7,784.6 L1650.5,783.5 L1649.3,782.4 L1648.2,781.2 L1647.0,780.1 L1645.9,778.9 L1644.8,777.6 L1643.8,776.2 L1642.7,774.8 L1641.6,773.3 L1640.6,771.6 L1639.6,769.9 L1638.5,768.1 L1637.6,766.3 L1636.6,764.4 L1635.6,762.5 L1634.7,760.7 L1633.8,758.8 L1632.9,757.0 L1632.1,755.3 L1631.3,753.6 L1630.5,752.0 L1629.8,750.4 L1629.1,748.9 L1628.4,747.4 L1627.7,745.9 L1627.1,744.5 L1626.5,743.0 L1625.9,741.6 L1625.3,740.1 L1624.8,738.6 L1624.3,737.1 L1623.8,735.6 L1623.3,734.0 L1622.9,732.5 L1622.4,730.9 L1622.0,729.3 L1621.6,727.8 L1621.3,726.2 L1620.9,724.6 L1620.6,723.0 L1620.3,721.3 L1620.1,719.7 L1619.9,718.1 L1619.7,716.4 L1619.6,714.7 L1619.5,713.0 L1619.5,711.3 L1619.5,709.6 L1619.5,707.8 L1619.6,706.1 L1619.6,704.3 L1619.7,702.6 L1619.8,700.8 L1619.8,699.1 L1619.9,697.3 L1619.9,695.6 L1619.9,693.9 L1619.9,692.3 L1619.9,690.7 L1620.0,689.2 L1620.0,687.6 L1620.0,686.1 L1620.0,684.5 L1620.0,682.8 L1619.9,681.1 L1619.9,679.2 L1619.8,677.2 L1619.7,675.1 L1619.6,672.8 L1619.4,670.4 L1619.3,667.8 L1619.1,665.1 L1618.9,662.4 L1618.7,659.6 L1618.4,656.7 L1618.2,653.8 L1617.9,651.0 L1617.7,648.1 L1617.4,645.3 L1617.1,642.6 L1616.8,639.8 L1616.4,636.9 L1616.0,633.9 L1615.6,630.9 L1615.2,627.8 L1614.7,624.8 L1614.3,621.9 L1613.9,619.2 L1613.5,616.6 L1613.1,614.3 L1612.8,612.3 L1612.6,610.7 L1612.1,607.6 L1611.5,604.5 L1610.9,601.3 L1610.3,598.2 L1609.7,595.1 L1609.0,592.0 L1608.4,588.9 L1607.7,585.8 L1607.0,582.7 L1606.3,579.6 L1605.6,576.5 L1604.9,573.4 L1604.1,570.3 L1603.3,567.2 L1602.5,564.2 L1601.7,561.1 L1600.9,558.0 L1600.1,554.9 L1599.2,551.9 L1598.3,548.8 L1597.4,545.8 L1596.5,542.7 L1595.6,539.7 L1594.6,536.6 L1593.7,533.6 L1592.7,530.5 L1591.7,527.5 L1590.7,524.5 L1589.6,521.5 L1588.6,518.5 L1587.5,515.5 L1586.4,512.5 L1585.3,509.5 L1584.2,506.5 L1583.0,503.5 L1581.8,500.5 L1580.7,497.5 L1579.5,494.6 L1578.3,491.6 L1577.0,488.6 L1575.8,485.7 L1574.5,482.7 L1573.3,479.8 L1572.0,476.9 L1570.7,473.9 L1569.4,471.0 L1568.0,468.1 L1566.7,465.2 L1565.3,462.3 L1563.9,459.4 L1562.5,456.5 L1561.1,453.6 L1559.7,450.7 L1558.2,447.9 L1556.8,445.0 L1555.3,442.1 L1553.8,439.3 L1552.3,436.4 L1550.8,433.6 L1549.3,430.7 L1547.7,427.9 L1546.2,425.1 L1544.6,422.3 L1543.0,419.5 L1541.4,416.7 L1539.8,413.9 L1538.2,411.1 L1536.6,408.3 L1534.9,405.5 L1533.2,402.8 L1531.6,400.0 L1529.9,397.3 L1528.1,394.5 L1526.4,391.8 L1524.7,389.0 L1522.9,386.3 L1521.2,383.6 L1519.4,380.9 L1517.6,378.2 L1515.8,375.5 L1513.9,372.8 L1512.1,370.2 L1510.2,367.5 L1508.4,364.8 L1506.5,362.2 L1504.6,359.5 L1502.7,356.9 L1500.8,354.3 L1498.8,351.7 L1496.9,349.1 L1494.9,346.5 L1492.9,343.9 L1490.9,341.3 L1488.9,338.7 L1486.9,336.2 L1484.8,333.6 L1482.8,331.1 L1480.7,328.6 L1478.6,326.1 L1476.5,323.6 L1474.4,321.1 L1472.3,318.6 L1470.1,316.1 L1468.0,313.6 L1465.8,311.2 L1463.6,308.7 L1461.4,306.3 L1459.2,303.9 L1457.0,301.4 L1454.7,299.0 L1452.5,296.6 L1450.2,294.3 L1447.9,291.9 L1445.6,289.5 L1443.3,287.2 L1441.0,284.8 L1438.7,282.5 L1436.3,280.2 L1434.0,277.9 L1431.6,275.6 L1429.2,273.3 L1426.8,271.0 L1424.4,268.8 L1422.0,266.5 L1419.6,264.3 L1417.1,262.1 L1414.7,259.8 L1412.2,257.6 L1409.7,255.4 L1407.2,253.3 L1404.7,251.1 L1402.2,248.9 L1399.7,246.8 L1397.1,244.7 L1394.6,242.5 L1392.0,240.4 L1389.4,238.3 L1386.8,236.2 L1384.2,234.2 L1381.6,232.1 L1379.0,230.1 L1376.4,228.0 L1373.7,226.0 L1371.1,224.0 L1368.4,222.0 L1365.7,220.0 L1363.0,218.0 L1360.3,216.1 L1357.6,214.1 L1354.9,212.2 L1352.2,210.3 L1349.4,208.4 L1346.7,206.5 L1343.9,204.6 L1341.2,202.7 L1338.4,200.8 L1335.6,199.0 L1332.8,197.2 L1330.0,195.3 L1327.1,193.5 L1324.3,191.8 L1321.5,190.0 L1318.6,188.2 L1315.8,186.5 L1312.9,184.7 L1310.0,183.0 L1307.1,181.3 L1304.2,179.6 L1301.3,177.9 L1298.4,176.2 L1295.5,174.6 L1292.5,172.9 L1289.6,171.3 L1286.6,169.7 L1283.7,168.1 L1280.7,166.5 L1277.7,164.9 L1274.7,163.4 L1271.7,161.8 L1268.7,160.3 L1265.7,158.8 L1262.7,157.3 L1259.6,155.8 L1256.6,154.3 L1253.6,152.8 L1250.5,151.4 L1247.4,150.0 L1244.4,148.5 L1241.3,147.1 L1238.2,145.7 L1235.1,144.4 L1232.0,143.0 L1228.9,141.7 L1225.8,140.3 L1222.7,139.0 L1219.5,137.7 L1216.4,136.4 L1213.2,135.2 L1210.1,133.9 L1206.9,132.7 L1203.8,131.4 L1200.6,130.2 L1197.4,129.0 L1194.2,127.8 L1191.1,126.7 L1187.9,125.5 L1184.7,124.4 L1181.4,123.3 L1178.2,122.1 L1175.0,121.0 L1171.8,120.0 L1168.5,118.9 L1165.3,117.9 L1162.1,116.8 L1158.8,115.8 L1155.6,114.8 L1152.3,113.8 L1149.0,112.8 L1145.8,111.9 L1142.5,110.9 L1139.2,110.0 L1135.9,109.1 L1132.6,108.2 L1129.3,107.3 L1126.0,106.5 L1122.7,105.6 L1119.4,104.8 L1116.1,103.9 L1112.8,103.1 L1109.5,102.4 L1106.1,101.6 L1102.8,100.8 L1099.5,100.1 L1096.1,99.3 L1092.8,98.6 L1089.5,97.9 L1086.1,97.2 L1082.8,96.6 L1079.4,95.9 L1076.0,95.3 L1072.7,94.7 L1069.3,94.1 L1065.9,93.5 L1062.6,92.9 L1059.2,92.3 L1055.8,91.8 L1052.4,91.3 L1049.0,90.8 L1045.7,90.3 L1042.3,89.8 L1038.9,89.3 L1035.5,88.9 L1032.1,88.4 L1028.7,88.0 L1025.3,87.6 L1021.9,87.2 L1018.5,86.8 L1015.1,86.5 L1011.7,86.1 L1008.3,85.8 L1004.8,85.5 L1001.4,85.2 L998.0,84.9 L994.6,84.7 L991.2,84.4 L987.8,84.2 L984.3,84.0 L980.9,83.8 L977.5,83.6 L974.1,83.4 L970.6,83.3 L967.2,83.1 L963.8,83.0 L960.4,82.9 L956.9,82.8 L953.5,82.7 L950.1,82.7 L946.7,82.6 L943.2,82.6 L939.8,82.6 L936.4,82.6 L932.9,82.6 L929.5,82.6 L926.1,82.7 L922.7,82.8 L919.2,82.8 L915.8,82.9 L912.4,83.0 L909.0,83.2 L905.5,83.3 L902.1,83.5 L898.7,83.7 L895.3,83.9 L891.8,84.1 L888.4,84.3 L885.0,84.5 L881.6,84.8 L878.2,85.0 L874.8,85.3 L871.3,85.6 L867.9,86.0 L864.5,86.3 L861.1,86.6 L857.7,87.0 L854.3,87.4 L850.9,87.8 L847.5,88.2 L844.1,88.6 L840.7,89.1 L837.3,89.5 L833.9,90.0 L830.5,90.5 L827.2,91.0 L823.8,91.5 L820.4,92.0 L817.0,92.6 L813.7,93.2 L810.3,93.7 L806.9,94.3 L803.5,95.0 L800.2,95.6 L796.8,96.2 L793.5,96.9 L790.1,97.6 L786.8,98.3 L783.4,99.0 L780.1,99.7 L776.8,100.4 L773.4,101.2 L770.1,101.9 L766.8,102.7 L763.5,103.5 L760.2,104.3 L756.8,105.2 L753.5,106.0 L750.2,106.9 L747.0,107.8 L743.7,108.7 L740.4,109.6 L737.1,110.5 L733.8,111.4 L730.5,112.4 L727.3,113.3 L724.0,114.3 L720.8,115.3 L717.5,116.3 L714.3,117.4 L711.0,118.4 L707.8,119.5 L704.6,120.5 L701.4,121.6 L698.1,122.7 L694.9,123.8 L691.7,125.0 L688.5,126.1 L685.3,127.3 L682.2,128.5 L679.0,129.7 L675.8,130.9 L672.7,132.1 L669.5,133.3 L666.3,134.6 L663.2,135.8 L660.1,137.1 L656.9,138.4 L653.8,139.7 L650.7,141.1 L647.6,142.4 L644.5,143.8 L641.4,145.1 L638.3,146.5 L635.2,147.9 L632.2,149.3 L629.1,150.7 L626.0,152.2 L623.0,153.6 L620.0,155.1 L616.9,156.6 L613.9,158.1 L610.9,159.6 L607.9,161.1 L604.9,162.7 L601.9,164.2 L598.9,165.8 L595.9,167.4 L593.0,169.0 L590.0,170.6 L587.1,172.2 L584.1,173.8 L581.2,175.5 L578.3,177.1 L575.4,178.8 L572.5,180.5 L569.6,182.2 L566.7,183.9 L563.8,185.7 L561.0,187.4 L558.1,189.2 L555.3,190.9 L552.4,192.7 L549.6,194.5 L546.8,196.3 L544.0,198.1 L541.2,200.0 L538.4,201.8 L535.6,203.7 L532.9,205.6 L530.1,207.4 L527.4,209.3 L524.6,211.3 L521.9,213.2 L519.2,215.1 L516.5,217.1 L513.8,219.0 L511.1,221.0 L508.5,223.0 L505.8,225.0 L503.1,227.0 L500.5,229.0 L497.9,231.1 L495.3,233.1 L492.7,235.2 L490.1,237.2 L487.5,239.3 L484.9,241.4 L482.3,243.5 L479.8,245.6 L477.3,247.8 L474.7,249.9 L472.2,252.1 L469.7,254.2 L467.2,256.4 L464.7,258.6 L462.3,260.8 L459.8,263.0 L457.4,265.2 L454.9,267.5 L452.5,269.7 L450.1,272.0 L447.7,274.2 L445.3,276.5 L443.0,278.8 L440.6,281.1 L438.3,283.4 L435.9,285.7 L433.6,288.1 L431.3,290.4 L429.0,292.8 L426.7,295.1 L424.4,297.5 L422.2,299.9 L419.9,302.3 L417.7,304.7 L415.5,307.1 L413.3,309.5 L411.1,311.9 L408.9,314.4 L406.7,316.8 L404.6,319.3 L402.4,321.8 L400.3,324.3 L398.2,326.8 L396.1,329.3 L394.0,331.8 L391.9,334.3 L389.8,336.8 L387.8,339.4 L385.8,341.9 L383.7,344.5 L381.7,347.1 L379.7,349.6 L377.8,352.2 L375.8,354.8 L373.9,357.4 L371.9,360.1 L370.0,362.7 L368.1,365.3 L366.2,368.0 L364.3,370.6 L362.5,373.3 L360.6,375.9 L358.8,378.6 L357.0,381.3 L355.1,384.0 L353.4,386.7 L351.6,389.4 L349.8,392.1 L348.1,394.9 L346.3,397.6 L344.6,400.3 L342.9,403.1 L341.2,405.8 L339.6,408.6 L337.9,411.4 L336.3,414.2 L334.6,417.0 L333.0,419.8 L331.4,422.6 L329.8,425.4 L328.3,428.2 L326.7,431.0 L325.2,433.9 L323.7,436.7 L322.2,439.6 L320.7,442.4 L319.2,445.3 L317.8,448.1 L316.3,451.0 L314.9,453.9 L313.5,456.8 L312.1,459.7 L310.7,462.6 L309.4,465.5 L308.0,468.4 L306.7,471.3 L305.4,474.3 L304.1,477.2 L302.8,480.1 L301.5,483.1 L300.3,486.0 L299.1,489.0 L297.9,492.0 L296.7,494.9 L295.5,497.9 L294.3,500.9 L293.2,503.9 L292.0,506.9 L290.9,509.9 L289.8,512.9 L288.7,515.9 L287.7,518.9 L286.6,521.9 L285.6,524.9 L284.6,528.0 L283.6,531.0 L282.6,534.0 L281.6,537.1 L280.7,540.1 L279.7,543.2 L278.8,546.2 L277.9,549.3 L277.1,552.3 L276.2,555.4 L275.3,558.5 L274.5,561.5 L273.7,564.6 L272.9,567.7 L272.1,570.8 L271.3,573.9 L270.6,577.0 L269.9,580.1 L269.2,583.2 L268.5,586.3 L267.8,589.4 L267.1,592.5 L266.5,595.6 L265.8,598.7 L265.2,601.8 L264.6,604.9 L264.0,608.0 L263.5,611.2 L262.9,614.3 L262.4,617.4 L261.9,620.6 L261.4,623.7 L260.9,626.8 L260.5,630.0 L260.0,633.1 L259.6,636.2 L259.2,639.4 L258.8,642.5 L258.4,645.7 L258.0,648.8 L257.7,652.0 L257.4,655.1 L257.1,658.3 L256.8,661.4 L256.5,664.6 L256.2,667.8 L256.0,670.9 L255.8,674.1 L255.6,677.2 L255.4,680.4 L255.2,683.5 L255.0,686.7 L254.9,689.9 L254.8,693.0 L254.6,696.2 L254.6,699.4 L254.5,702.5 L254.4,705.7 L254.4,708.9 L254.3,712.0 L254.3,715.2 L254.3,718.4 L254.4,721.5 L254.4,724.7 L254.5,727.8 L254.5,731.0 L254.6,734.2 L254.7,737.3 L254.9,740.5 L255.0,743.7 L255.2,746.8 L255.3,750.0 L255.5,753.1 L255.7,756.3 L256.0,759.5 L256.2,762.6 L256.4,765.8 L256.7,768.9 L257.0,772.1 L257.3,775.2 L257.6,778.4 L258.0,781.5 L258.3,784.7 L258.7,787.8 L259.1,791.0 L259.5,794.1 L259.9,797.3 L260.3,800.4 L260.8,803.5 L261.3,806.7 L261.8,809.8 L262.3,812.9 L262.8,816.1 L263.3,819.2 L263.9,822.3 L264.4,825.4 L265.0,828.6 L265.6,831.7 L266.2,834.8 L266.9,837.9 L267.5,841.0 L268.2,844.1 L268.9,847.2 L269.6,850.3 L270.3,853.4 L271.0,856.5 L271.8,859.6 L272.6,862.7 L273.3,865.8 L274.1,868.8 L275.0,871.9 L275.8,875.0 L276.6,878.1 L277.5,881.1 L278.4,884.2 L279.3,887.2 L280.2,890.3 L281.1,893.3 L282.1,896.4 L283.0,899.4 L284.0,902.5 L285.0,905.5 L286.0,908.5 L287.0,911.5 L288.1,914.5 L289.2,917.6 L290.2,920.6 L291.3,923.6 L292.4,926.6 L293.6,929.6 L294.7,932.5 L295.9,935.5 L297.0,938.5 L298.2,941.5 L299.4,944.4 L300.6,947.4 L301.9,950.4 L303.1,953.3 L304.4,956.2 L305.7,959.2 L307.0,962.1 L308.3,965.0 L309.6,968.0 L311.0,970.9 L312.4,973.8 L313.7,976.7 L315.1,979.6 L316.5,982.5 L318.0,985.3 L319.4,988.2 L320.9,991.1 L322.3,994.0 L323.8,996.8 L325.3,999.7 L326.9,1002.5 L328.4,1005.3 L330.0,1008.2 L331.5,1011.0 L333.1,1013.8 L334.7,1016.6 L336.3,1019.4 L337.9,1022.2 L339.6,1025.0 L341.3,1027.7 L342.9,1030.5 L344.6,1033.3 L346.3,1036.0 L348.0,1038.8 L349.8,1041.5 L351.5,1044.2 L353.3,1046.9 L355.1,1049.7 L356.9,1052.4 L358.7,1055.0 L360.5,1057.7 L362.3,1060.4 L364.2,1063.1 L366.1,1065.7 L367.9,1068.4 L369.8,1071.0 L371.8,1073.7 L373.7,1076.3 L375.6,1078.9 L377.6,1081.5 L379.5,1084.1 L381.5,1086.7 L383.5,1089.3 L385.5,1091.8 L387.6,1094.4 L389.6,1097.0 L391.7,1099.5 L393.7,1102.0 L395.8,1104.6 L397.9,1107.1 L400.0,1109.6 L402.1,1112.1 L404.3,1114.5 L406.4,1117.0 L408.6,1119.5 L410.8,1121.9 L412.9,1124.4 L415.2,1126.8 L417.4,1129.2 L419.6,1131.6 L421.8,1134.0 L424.1,1136.4 L426.4,1138.8 L428.6,1141.2 L430.9,1143.6 L433.2,1145.9 L435.6,1148.2 L437.9,1150.6 L440.2,1152.9 L442.6,1155.2 L445.0,1157.5 L447.4,1159.8 L449.8,1162.0 L452.2,1164.3 L454.6,1166.5 L457.0,1168.8 L459.5,1171.0 L461.9,1173.2 L464.4,1175.4 L466.9,1177.6 L469.4,1179.8 L471.9,1182.0 L474.4,1184.1 L476.9,1186.3 L479.5,1188.4 L482.0,1190.5 L484.6,1192.7 L487.1,1194.8 L489.7,1196.8 L492.3,1198.9 L494.9,1201.0 L497.6,1203.0 L500.2,1205.1 L502.8,1207.1 L505.5,1209.1 L508.2,1211.1 L510.8,1213.1 L513.5,1215.1 L516.2,1217.0 L518.9,1219.0 L521.6,1220.9 L524.4,1222.9 L527.1,1224.8 L529.8,1226.7 L532.6,1228.6 L535.4,1230.4 L538.2,1232.3 L540.9,1234.2 L543.7,1236.0 L546.6,1237.8 L549.4,1239.6 L552.2,1241.4 L555.0,1243.2 L557.9,1245.0 L560.8,1246.7 L563.6,1248.5 L566.5,1250.2 L569.4,1251.9 L572.3,1253.6 L575.2,1255.3 L578.1,1257.0 L581.0,1258.7 L584.0,1260.3 L586.9,1262.0 L589.9,1263.6 L592.8,1265.2 L595.8,1266.8 L598.8,1268.4 L601.7,1269.9 L604.7,1271.5 L607.7,1273.0 L610.8,1274.6 L613.8,1276.1 L616.8,1277.6 L619.8,1279.1 L622.9,1280.5 L625.9,1282.0 L629.0,1283.4 L632.1,1284.9 L635.1,1286.3 L638.2,1287.7 L641.3,1289.1 L644.4,1290.4 L647.5,1291.8 L650.6,1293.1 L653.7,1294.5 L656.9,1295.8 L660.0,1297.1 L663.1,1298.4 L666.3,1299.6 L669.4,1300.9 L672.6,1302.1 L675.8,1303.3 L678.9,1304.6 L682.1,1305.7 L685.3,1306.9 L688.5,1308.1 L691.7,1309.2 L694.9,1310.4 L698.1,1311.5 L701.3,1312.6 L704.6,1313.7 L707.8,1314.8 L711.0,1315.8 L714.3,1316.9 L717.5,1317.9 L720.8,1318.9 L724.0,1319.9 L727.3,1320.9 L730.6,1321.9 L733.8,1322.9 L737.1,1323.8 L740.4,1324.7 L743.7,1325.6 L747.0,1326.5 L750.3,1327.4 L753.6,1328.3 L756.9,1329.1 L760.2,1329.9 L763.5,1330.8 L766.9,1331.6 L770.2,1332.4 L773.5,1333.1 L776.9,1333.9 L780.2,1334.6 L783.5,1335.3 L786.9,1336.1 L790.2,1336.7 L793.6,1337.4 L797.0,1338.1 L800.3,1338.7 L803.7,1339.4 L807.1,1340.0 L810.4,1340.6 L813.8,1341.2 L817.2,1341.7 L820.6,1342.3 L824.0,1342.8 L827.3,1343.3 L830.7,1343.9 L834.1,1344.3 L837.5,1344.8 L840.9,1345.3 L844.3,1345.7 L847.7,1346.1 L851.1,1346.6 L854.5,1346.9 L857.9,1347.3 L861.4,1347.7 L864.8,1348.0 L868.2,1348.4 L871.6,1348.7 L875.0,1349.0 L878.4,1349.3 L881.9,1349.5 L885.3,1349.8 L888.7,1350.0 L892.1,1350.2 L895.6,1350.4 L899.0,1350.6 L902.4,1350.8 L905.9,1351.0 L909.3,1351.1 L912.7,1351.2 L916.1,1351.3 L919.6,1351.4 L923.0,1351.5 L926.4,1351.5 L929.9,1351.6 L933.3,1351.6 L936.7,1351.6 L940.2,1351.6 L943.6,1351.6 L947.0,1351.6 L950.5,1351.5 L953.9,1351.4 L957.3,1351.4 L960.8,1351.3 L964.2,1351.1 L967.6,1351.0 L971.1,1350.9 L974.5,1350.7 L977.9,1350.5 L981.4,1350.3 L984.8,1350.1 L988.2,1349.9 L991.6,1349.6 L995.0,1349.4 L998.5,1349.1 L1001.9,1348.8 L1005.3,1348.5 L1008.7,1348.2 L1012.1,1347.8 L1015.5,1347.5 L1019.0,1347.1 L1022.4,1346.7 L1025.8,1346.3 L1029.2,1345.9 L1032.6,1345.5 L1036.0,1345.0 L1039.4,1344.6 L1042.8,1344.1 L1046.1,1343.6 L1049.5,1343.1 L1052.9,1342.5 L1056.3,1342.0 L1059.7,1341.4 L1063.1,1340.8 L1066.4,1340.3 L1069.8,1339.6 L1073.2,1339.0 L1076.5,1338.4 L1079.9,1337.7 L1083.2,1337.1 L1086.6,1336.4 L1089.9,1335.7 L1093.3,1335.0 L1096.6,1334.2 L1100.0,1333.5 L1103.3,1332.7 L1106.6,1331.9 L1109.9,1331.1 L1113.3,1330.3 L1116.6,1329.5 L1119.9,1328.7 L1123.2,1327.8 L1126.5,1326.9 L1129.8,1326.0 L1133.1,1325.1 L1136.4,1324.2 L1139.6,1323.3 L1142.9,1322.3 L1146.2,1321.4 L1149.4,1320.4 L1152.7,1319.4 L1156.0,1318.4 L1159.2,1317.4 L1162.4,1316.3 L1165.7,1315.3 L1168.9,1314.2 L1172.1,1313.1 L1175.4,1312.0 L1178.6,1310.9 L1181.8,1309.8 L1185.0,1308.6 L1188.2,1307.5 L1191.4,1306.3 L1194.5,1305.1 L1197.7,1303.9 L1200.9,1302.7 L1204.0,1301.5 L1207.2,1300.2 L1210.3,1299.0 L1213.5,1297.7 L1216.6,1296.4 L1219.7,1295.1 L1222.9,1293.8 L1226.0,1292.4 L1229.1,1291.1 L1232.2,1289.7 L1235.3,1288.3 L1238.3,1286.9 L1241.4,1285.5 L1244.5,1284.1 L1247.5,1282.7 L1250.6,1281.2 L1253.6,1279.8 L1256.7,1278.3 L1259.7,1276.8 L1262.7,1275.3 L1265.7,1273.8 L1268.7,1272.2 L1271.7,1270.7 L1274.7,1269.1 L1277.7,1267.6 L1280.7,1266.0 L1283.6,1264.4 L1286.6,1262.8 L1289.5,1261.1 L1292.4,1259.5 L1295.4,1257.8 L1298.3,1256.2 L1301.2,1254.5 L1304.1,1252.8 L1307.0,1251.1 L1309.8,1249.3 L1312.7,1247.6 L1315.6,1245.8 L1318.4,1244.1 L1321.2,1242.3 L1324.1,1240.5 L1326.9,1238.7 L1329.7,1236.9 L1332.5,1235.1 L1335.3,1233.2 L1338.1,1231.4 L1340.8,1229.5 L1343.6,1227.6 L1346.3,1225.7 L1349.1,1223.8 L1351.8,1221.9 L1354.5,1220.0 L1357.2,1218.0 L1359.9,1216.1 L1362.6,1214.1 L1365.3,1212.1 L1368.0,1210.1 L1370.6,1208.1 L1373.3,1206.1 L1375.9,1204.1 L1378.5,1202.0 L1381.1,1200.0 L1383.7,1197.9 L1386.3,1195.8 L1388.9,1193.7 L1391.4,1191.6 L1394.0,1189.5 L1396.5,1187.4 L1399.1,1185.3 L1401.6,1183.1 L1404.1,1181.0 L1406.6,1178.8 L1409.0,1176.6 L1411.5,1174.4 L1414.0,1172.2 L1416.4,1170.0 L1418.9,1167.8 L1421.3,1165.5 L1423.7,1163.3 L1426.1,1161.0 L1428.5,1158.7 L1430.8,1156.4 L1433.2,1154.1 L1435.5,1151.8 L1437.9,1149.5 L1440.2,1147.2 L1442.5,1144.9 L1444.8,1142.5 L1447.1,1140.1 L1449.4,1137.8 L1451.6,1135.4 L1453.9,1133.0 L1456.1,1130.6 L1458.3,1128.2 L1460.5,1125.8 L1462.7,1123.3 L1464.9,1120.9 L1467.0,1118.4 L1469.2,1116.0 L1471.3,1113.5 L1473.5,1111.0 L1475.6,1108.5 L1477.7,1106.0 L1479.8,1103.5 L1481.8,1101.0 L1483.9,1098.5 L1485.9,1095.9 L1488.0,1093.4 L1490.0,1090.8 L1492.0,1088.3 L1494.0,1085.7 L1495.9,1083.1 L1497.9,1080.5 L1499.8,1077.9 L1501.8,1075.3 L1503.7,1072.7 L1505.6,1070.0 L1507.5,1067.4 L1509.4,1064.8 L1511.2,1062.1 L1513.1,1059.4 L1514.9,1056.8 L1516.7,1054.1 L1518.5,1051.4 L1520.3,1048.7" fill="none" stroke="#0000ff" stroke-width="3.7" stroke-dasharray="27 8.8 7.8 8.76" stroke-linejoin="round" shape-rendering="crispEdges"/>
<g fill="none" stroke="#ff0000" stroke-width="4.5" shape-rendering="crispEdges">
<circle cx="1389.5" cy="716" r="13.0"/>
<circle cx="1389.5" cy="710" r="13.0"/>
<circle cx="1388.5" cy="691" r="13.0"/>
<circle cx="1385.5" cy="661" r="13.0"/>
<circle cx="1377.5" cy="619" r="13.0"/>
<circle cx="1360.5" cy="568" r="13.0"/>
<circle cx="1329.5" cy="507" r="13.0"/>
<circle cx="1280.5" cy="443" r="13.0"/>
<circle cx="1208.5" cy="381" r="13.0"/>
<circle cx="1112.5" cy="330" r="13.0"/>
<circle cx="992.5" cy="301" r="13.0"/>
<circle cx="855.5" cy="304" r="13.0"/>
<circle cx="714.5" cy="352" r="13.0"/>
<circle cx="590.5" cy="448" r="13.0"/>
<circle cx="507.5" cy="591" r="13.0"/>
<circle cx="489.5" cy="765" r="13.0"/>
<circle cx="557.5" cy="940" r="13.0"/>
<circle cx="711.5" cy="1076" r="13.0"/>
<circle cx="929.5" cy="1132" r="13.0"/>
<circle cx="1161.5" cy="1077" r="13.0"/>
<circle cx="1337.5" cy="910" r="13.0"/>
</g>
<g fill="none" stroke="#00ff00" stroke-width="4.5" shape-rendering="crispEdges">
<circle cx="1659.5" cy="1049" r="13.0"/>
<circle cx="1530.5" cy="741" r="13.0"/>
<circle cx="1513.5" cy="709" r="13.0"/>
<circle cx="1505.5" cy="673" r="13.0"/>
<circle cx="1494.5" cy="620" r="13.0"/>
<circle cx="1474.5" cy="554" r="13.0"/>
<circle cx="1440.5" cy="477" r="13.0"/>
<circle cx="1382.5" cy="395" r="13.0"/>
<circle cx="1297.5" cy="312" r="13.0"/>
<circle cx="1179.5" cy="243" r="13.0"/>
<circle cx="1031.5" cy="200" r="13.0"/>
<circle cx="859.5" cy="197" r="13.0"/>
<circle cx="680.5" cy="249" r="13.0"/>
<circle cx="517.5" cy="363" r="13.0"/>
<circle cx="404.5" cy="538" r="13.0"/>
<circle cx="372.5" cy="754" r="13.0"/>
<circle cx="445.5" cy="978" r="13.0"/>
<circle cx="630.5" cy="1156" r="13.0"/>
<circle cx="900.5" cy="1238" r="13.0"/>
<circle cx="1193.5" cy="1181" r="13.0"/>
<circle cx="1423.5" cy="981" r="13.0"/>
</g>
<g fill="none" stroke="#0000ff" stroke-width="4.5" shape-rendering="crispEdges">
<circle cx="1930.5" cy="1133" r="13.0"/>
<circle cx="1642.5" cy="774" r="13.0"/>
<circle cx="1619.5" cy="716" r="13.0"/>
<circle cx="1619.5" cy="675" r="13.0"/>
<circle cx="1612.5" cy="610" r="13.0"/>
<circle cx="1592.5" cy="529" r="13.0"/>
<circle cx="1551.5" cy="435" r="13.0"/>
<circle cx="1485.5" cy="334" r="13.0"/>
<circle cx="1383.5" cy="233" r="13.0"/>
<circle cx="1242.5" cy="147" r="13.0"/>
<circle cx="1065.5" cy="93" r="13.0"/>
<circle cx="857.5" cy="86" r="13.0"/>
<circle cx="638.5" cy="146" r="13.0"/>
<circle cx="440.5" cy="281" r="13.0"/>
<circle cx="298.5" cy="489" r="13.0"/>
<circle cx="255.5" cy="751" r="13.0"/>
<circle cx="337.5" cy="1022" r="13.0"/>
<circle cx="556.5" cy="1244" r="13.0"/>
<circle cx="881.5" cy="1349" r="13.0"/>
<circle cx="1237.5" cy="1287" r="13.0"/>
<circle cx="1520.5" cy="1048" r="13.0"/>
</g>
<g stroke="#000" fill="none" shape-rendering="crispEdges">
<line x1="1335.8" y1="507.5" x2="1547.1" y2="437.9" stroke-width="3.79"/>
<line x1="1281.3" y1="454.8" x2="1493.4" y2="340.2" stroke-width="3.90"/>
<line x1="1206.1" y1="391.7" x2="1381.3" y2="238.4" stroke-width="3.90"/>
<line x1="1115.9" y1="345.9" x2="1235.3" y2="149.8" stroke-width="3.90"/>
<line x1="991.1" y1="317.9" x2="1068.8" y2="95.8" stroke-width="3.82"/>
<line x1="857.5" y1="311.0" x2="857.5" y2="79.0" stroke-width="3.00"/>
<line x1="715.6" y1="366.3" x2="640.5" y2="148.5" stroke-width="3.81"/>
<line x1="587.0" y1="461.2" x2="438.0" y2="282.2" stroke-width="3.90"/>
<line x1="505.5" y1="596.2" x2="299.2" y2="487.2" stroke-width="3.90"/>
<line x1="497.9" y1="763.5" x2="244.5" y2="753.3" stroke-width="3.12"/>
<line x1="558.5" y1="941.8" x2="336.2" y2="1021.5" stroke-width="3.84"/>
<line x1="712.9" y1="1086.5" x2="542.3" y2="1244.2" stroke-width="3.90"/>
<line x1="925.1" y1="1137.5" x2="876.7" y2="1353.2" stroke-width="3.58"/>
<line x1="1157.0" y1="1076.9" x2="1236.2" y2="1287.0" stroke-width="3.87"/>
<line x1="1331.4" y1="909.0" x2="1519.9" y2="1049.5" stroke-width="3.90"/>
</g>
<g stroke="#262626" stroke-width="3" fill="none" shape-rendering="crispEdges">
<rect x="216.5" y="48.5" width="1804.0" height="1335.0"/>
</g>
<g stroke="#262626" stroke-width="3.5" fill="none" shape-rendering="crispEdges">
<line x1="396.9" y1="1383.5" x2="396.9" y2="1364.0"/>
<line x1="396.9" y1="48.5" x2="396.9" y2="68.0"/>
<line x1="577.3" y1="1383.5" x2="577.3" y2="1364.0"/>
<line x1="577.3" y1="48.5" x2="577.3" y2="68.0"/>
<line x1="757.7" y1="1383.5" x2="757.7" y2="1364.0"/>
<line x1="757.7" y1="48.5" x2="757.7" y2="68.0"/>
<line x1="938.1" y1="1383.5" x2="938.1" y2="1364.0"/>
<line x1="938.1" y1="48.5" x2="938.1" y2="68.0"/>
<line x1="1118.5" y1="1383.5" x2="1118.5" y2="1364.0"/>
<line x1="1118.5" y1="48.5" x2="1118.5" y2="68.0"/>
<line x1="1298.9" y1="1383.5" x2="1298.9" y2="1364.0"/>
<line x1="1298.9" y1="48.5" x2="1298.9" y2="68.0"/>
<line x1="1479.3" y1="1383.5" x2="1479.3" y2="1364.0"/>
<line x1="1479.3" y1="48.5" x2="1479.3" y2="68.0"/>
<line x1="1659.7" y1="1383.5" x2="1659.7" y2="1364.0"/>
<line x1="1659.7" y1="48.5" x2="1659.7" y2="68.0"/>
<line x1="1840.1" y1="1383.5" x2="1840.1" y2="1364.0"/>
<line x1="1840.1" y1="48.5" x2="1840.1" y2="68.0"/>
<line x1="216.5" y1="215.38" x2="236.0" y2="215.38"/>
<line x1="2020.5" y1="215.38" x2="2001.0" y2="215.38"/>
<line x1="216.5" y1="382.25" x2="236.0" y2="382.25"/>
<line x1="2020.5" y1="382.25" x2="2001.0" y2="382.25"/>
<line x1="216.5" y1="549.12" x2="236.0" y2="549.12"/>
<line x1="2020.5" y1="549.12" x2="2001.0" y2="549.12"/>
<line x1="216.5" y1="716.0" x2="236.0" y2="716.0"/>
<line x1="2020.5" y1="716.0" x2="2001.0" y2="716.0"/>
<line x1="216.5" y1="882.88" x2="236.0" y2="882.88"/>
<line x1="2020.5" y1="882.88" x2="2001.0" y2="882.88"/>
<line x1="216.5" y1="1049.75" x2="236.0" y2="1049.75"/>
<line x1="2020.5" y1="1049.75" x2="2001.0" y2="1049.75"/>
<line x1="216.5" y1="1216.62" x2="236.0" y2="1216.62"/>
<line x1="2020.5" y1="1216.62" x2="2001.0" y2="1216.62"/>
</g>
<g font-family="'Liberation Serif', 'Times New Roman', serif" font-size="61" fill="#262626">
<text x="215.3" y="1462.3" text-anchor="middle">-0.8</text>
<text x="395.7" y="1462.3" text-anchor="middle">-0.6</text>
<text x="576.1" y="1462.3" text-anchor="middle">-0.4</text>
<text x="756.5" y="1462.3" text-anchor="middle">-0.2</text>
<text x="936.9" y="1462.3" text-anchor="middle">0</text>
<text x="1117.3" y="1462.3" text-anchor="middle">0.2</text>
<text x="1297.7" y="1462.3" text-anchor="middle">0.4</text>
<text x="1478.1" y="1462.3" text-anchor="middle">0.6</text>
<text x="1658.5" y="1462.3" text-anchor="middle">0.8</text>
<text x="1838.9" y="1462.3" text-anchor="middle">1</text>
<text x="2019.3" y="1462.3" text-anchor="middle">1.2</text>
<text x="192.7" y="70.3" text-anchor="end">0.8</text>
<text x="192.7" y="237.2" text-anchor="end">0.6</text>
<text x="192.7" y="404.1" text-anchor="end">0.4</text>
<text x="192.7" y="570.9" text-anchor="end">0.2</text>
<text x="192.7" y="737.8" text-anchor="end">0</text>
<text x="192.7" y="904.7" text-anchor="end">-0.2</text>
<text x="192.7" y="1071.5" text-anchor="end">-0.4</text>
<text x="192.7" y="1238.4" text-anchor="end">-0.6</text>
<text x="192.7" y="1405.3" text-anchor="end">-0.8</text>
</g>
<g font-family="'Liberation Serif', 'Times New Roman', serif" font-size="67" fill="#000">
<text x="1053.9" y="1542.8"><tspan font-style="italic">x</tspan><tspan x="1087.3">(m)</tspan></text>
<text transform="translate(68.6,781.5) rotate(-90)" x="0" y="0"><tspan font-style="italic">y</tspan><tspan x="32.9">(m)</tspan></text>
</g>
<rect x="1588.75" y="83.75" width="396.5" height="212.5" fill="#fff" stroke="#000" stroke-width="3.5" shape-rendering="crispEdges"/>
<g fill="none" stroke-width="3" shape-rendering="crispEdges">
<path d="M1601,123.5 H1723.5" stroke="#ff0000" stroke-dasharray="4.2 8.93"/>
<path d="M1601,190.5 H1733" stroke="#00ff00" stroke-dasharray="33.5 19.4"/>
<path d="M1601,257.5 H1733" stroke="#0000ff" stroke-dasharray="27 9 8 8.9"/>
</g>
<g font-family="'Liberation Serif', 'Times New Roman', serif" font-size="53.5" fill="#000">
<text x="1743.7" y="142.4"><tspan letter-spacing="0.6">leader </tspan><tspan x="1904.3" text-anchor="middle">1</tspan></text>
<text x="1743.2" y="209.5"><tspan letter-spacing="0.7">follower </tspan><tspan x="1955.5" text-anchor="middle">2</tspan></text>
<text x="1743.2" y="277.2"><tspan letter-spacing="0.7">follower </tspan><tspan x="1954.5" text-anchor="middle">3</tspan></text>
</g>
</svg>
</body></html>
